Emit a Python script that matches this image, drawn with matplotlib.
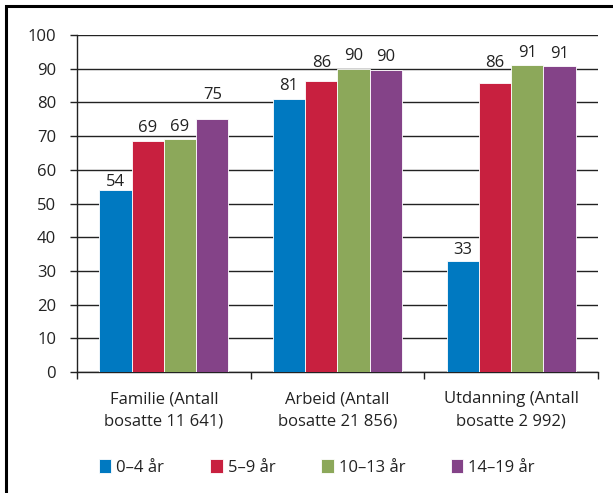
import matplotlib
matplotlib.use("Agg")
import matplotlib.pyplot as plt
import numpy as np
from matplotlib.patches import Rectangle

plt.rcParams['font.family'] = ['Open Sans', 'DejaVu Sans']

categories = ["Familie (Antall\nbosatte 11 641)", "Arbeid (Antall\nbosatte 21 856)",
              "Utdanning (Antall\nbosatte 2 992)"]
series_names = ["0–4 år", "5–9 år", "10–13 år", "14–19 år"]
age_0_4 = [54, 81, 33]
age_5_9 = [68.6, 86.4, 85.8]
age_10_13 = [69.1, 89.9, 91.1]
age_14_19 = [75.1, 89.6, 90.8]
colors = ["#0079C1", "#C8203F", "#8CA85A", "#844388"]

# vertical gap (points) between each bar top and its value label
label_gap = [[3, 6.5, 5], [6.5, 10, 11.5], [6, 6.5, 6], [14.5, 6.5, 6]]

series = [age_0_4, age_5_9, age_10_13, age_14_19]
FS = 12
TXT = "#222222"

fig = plt.figure(figsize=(6.13, 4.93), dpi=100)
ax = fig.add_axes([0.1256, 0.2454, 0.8499, 0.6836])

x = np.arange(len(categories))
w = 0.186
for i, (vals, col, name) in enumerate(zip(series, colors, series_names)):
    pos = x + (i - 1.5) * w
    bars = ax.bar(pos, vals, width=w, color=col, edgecolor="white", linewidth=0.6,
                  label=name, zorder=3)
    for j, (b, v) in enumerate(zip(bars, vals)):
        ax.annotate(f"{round(v):d}", (b.get_x() + b.get_width() / 2, v),
                    xytext=(0, label_gap[i][j]), textcoords="offset points",
                    ha="center", va="baseline", fontsize=FS, color=TXT, zorder=4)

ax.set_xlim(-0.5, 2.5)
ax.set_ylim(0, 100)
ax.set_yticks(np.arange(0, 101, 10))
ax.yaxis.grid(True, color=TXT, linewidth=1.0, zorder=0)
ax.set_axisbelow(True)
ax.set_xticks(x)
ax.set_xticklabels(categories, fontsize=FS, color=TXT, linespacing=1.5)
ax.set_xticks([-0.5, 0.5, 1.5, 2.5], minor=True)
ax.tick_params(axis="x", which="major", length=0, pad=14)
ax.tick_params(axis="x", which="minor", length=5, width=1, color=TXT)
ax.tick_params(axis="y", length=5, width=1, color=TXT, labelsize=FS,
               labelcolor=TXT, pad=10)
for s in ["top", "right"]:
    ax.spines[s].set_visible(False)
for s in ["left", "bottom"]:
    ax.spines[s].set_color(TXT)
    ax.spines[s].set_linewidth(1.0)

fig.legend(loc="center", bbox_to_anchor=(0.517, 0.052), ncol=4, frameon=False,
           handlelength=0.75, handleheight=0.95, handletextpad=0.3, columnspacing=2.75,
           fontsize=FS, labelcolor=TXT)

# figure frame
fig.patches.append(Rectangle((6 / 613, -0.1), 1.2, (493 - 6) / 493 + 0.1,
                             transform=fig.transFigure, fill=False,
                             edgecolor="black", linewidth=2.2))

fig.savefig("out.png", dpi=100)
